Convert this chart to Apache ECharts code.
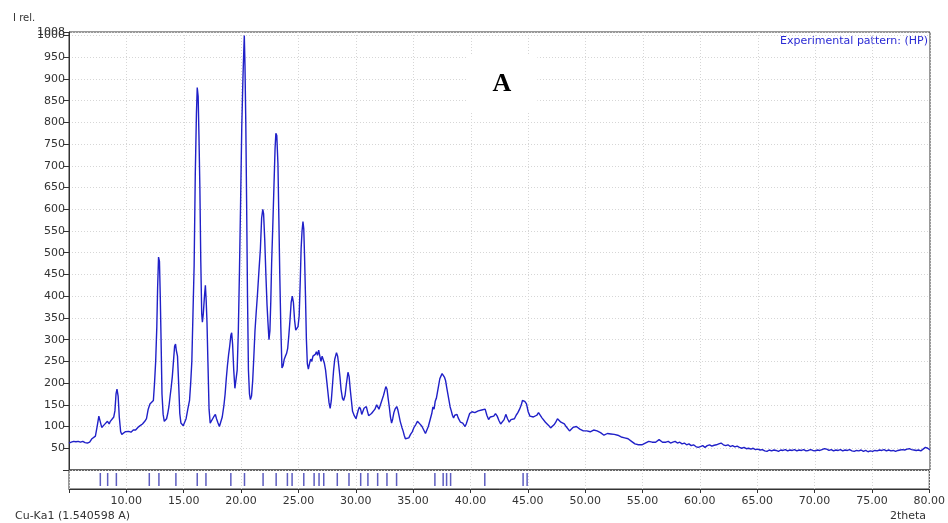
<!DOCTYPE html>
<html><head><meta charset="utf-8">
<script src="https://cdn.jsdelivr.net/npm/echarts@6/dist/echarts.min.js"></script>
<style>html,body{margin:0;padding:0;background:#fff}#c{width:948px;height:523px}</style>
</head><body><div id="c"></div>
<script>
// Experimental pattern [2theta, I rel.]
const scanLow = [[5.0,62],[5.1,58],[5.2,64],[5.4,66],[5.6,65],[5.8,66],[6.0,64],[6.2,66],[6.4,63],[6.6,62],[6.8,64],[7.0,72],[7.15,74],[7.3,78],[7.45,100],[7.6,124],[7.72,126],[7.85,98],[7.95,94],[8.1,105],[8.2,104],[8.35,112],[8.5,106],[8.6,112],[8.75,116],[8.9,122],[9.0,136],[9.1,176],[9.18,186],[9.28,170],[9.38,122],[9.5,88],[9.6,82],[9.75,84],[9.9,88],[10.05,86],[10.2,89],[10.4,87],[10.6,92],[10.8,92],[11.0,98],[11.2,102],[11.4,106],[11.6,112],[11.75,118],[11.9,140],[12.05,152],[12.2,156],[12.35,160],[12.45,200],[12.55,250],[12.65,330],[12.72,420],[12.8,490],[12.88,480],[12.95,400],[13.02,300],[13.1,175],[13.2,128],[13.3,112],[13.4,110],[13.5,118],[13.6,130],[13.7,145],[13.8,168],[13.9,190],[14.0,215],[14.1,250],[14.2,285],[14.28,290],[14.35,275],[14.45,262],[14.55,200],[14.65,130],[14.75,108],[14.85,104],[14.95,102]];
const scanMain = [[15.05,106],[15.2,118],[15.35,140],[15.5,160],[15.6,200],[15.7,250],[15.8,360],[15.9,470],[16.0,680],[16.1,820],[16.17,880],[16.25,860],[16.32,770],[16.4,650],[16.48,480],[16.56,360],[16.62,340],[16.7,360],[16.8,400],[16.88,425],[16.95,390],[17.02,340],[17.1,250],[17.2,140],[17.3,108],[17.45,112],[17.6,122],[17.75,128],[17.85,118],[17.98,108],[18.1,100],[18.2,102],[18.35,122],[18.5,150],[18.6,175],[18.7,210],[18.8,240],[18.9,265],[19.0,285],[19.1,310],[19.17,316],[19.25,290],[19.35,230],[19.45,188],[19.55,185],[19.65,230],[19.75,320],[19.85,460],[19.95,620],[20.05,790],[20.15,900],[20.22,960],[20.27,1000],[20.33,930],[20.4,800],[20.47,620],[20.55,400],[20.63,230],[20.72,175],[20.8,162],[20.9,170],[21.0,205],[21.1,260],[21.2,320],[21.3,360],[21.42,405],[21.55,460],[21.67,508],[21.78,580],[21.88,600],[21.95,590],[22.05,530],[22.15,450],[22.25,380],[22.33,340],[22.42,300],[22.5,320],[22.58,390],[22.65,475],[22.75,560],[22.85,650],[22.95,740],[23.02,775],[23.1,770],[23.2,705],[23.28,580],[23.36,450],[23.45,330],[23.55,235],[23.65,240],[23.75,255],[23.85,262],[23.95,268],[24.05,280],[24.15,310],[24.25,345],[24.35,385],[24.45,400],[24.55,385],[24.65,345],[24.75,322],[24.85,318],[24.95,330],[25.05,355],[25.15,440],[25.22,510],[25.3,550],[25.38,572],[25.45,555],[25.52,490],[25.6,400],[25.68,300],[25.76,245],[25.85,232],[25.95,245]];
const scanMid = [[26.05,255],[26.15,250],[26.25,262],[26.35,258],[26.45,266],[26.55,272],[26.65,264],[26.75,276],[26.85,262],[26.95,250],[27.05,262],[27.15,258],[27.25,245],[27.35,230],[27.45,205],[27.55,180],[27.65,155],[27.75,142],[27.85,160],[27.95,195],[28.05,230],[28.15,255],[28.3,270],[28.4,262],[28.5,240],[28.6,215],[28.7,185],[28.82,165],[28.92,160],[29.05,172],[29.15,195],[29.3,225],[29.4,215],[29.5,185],[29.6,160],[29.7,135],[29.85,125],[30.0,118],[30.1,122],[30.2,138],[30.3,145],[30.4,140],[30.5,128],[30.6,132],[30.7,142],[30.8,140],[30.9,146],[31.0,135],[31.1,125],[31.2,122],[31.35,130],[31.5,128],[31.65,140],[31.8,150],[31.9,146],[32.0,140],[32.1,148],[32.25,160],[32.4,172],[32.5,182],[32.6,192],[32.7,186],[32.8,165],[32.9,145],[33.0,122],[33.1,108],[33.2,118],[33.3,132],[33.4,140],[33.55,146],[33.65,138],[33.75,125],[33.85,112],[34.0,98],[34.1,90],[34.2,80],[34.3,72],[34.45,76],[34.6,74],[34.75,82],[34.9,88],[35.05,98],[35.2,104],[35.35,112],[35.45,110],[35.6,105],[35.75,100],[35.9,92],[36.05,84],[36.15,88],[36.3,100],[36.45,115],[36.6,130],[36.7,145],[36.8,140],[36.9,158],[37.0,165],[37.1,180],[37.2,195],[37.3,210],[37.4,216],[37.5,222],[37.6,218],[37.7,214],[37.8,206],[37.9,190],[38.0,175],[38.1,160],[38.2,145],[38.3,136],[38.4,126],[38.5,120],[38.6,126],[38.7,130],[38.8,128],[38.9,120],[39.0,116],[39.1,110],[39.2,113],[39.3,108],[39.4,104],[39.5,100],[39.6,106],[39.7,114],[39.8,122],[39.9,130]];
const scanTail = [[40.0,128],[40.1,134],[40.2,130],[40.35,132],[40.5,128],[40.65,136],[40.8,134],[40.95,138],[41.1,136],[41.25,140],[41.4,126],[41.55,116],[41.7,122],[41.85,118],[42.0,124],[42.15,130],[42.3,124],[42.45,114],[42.6,106],[42.75,104],[42.9,116],[43.05,128],[43.2,118],[43.35,110],[43.5,116],[43.65,112],[43.8,118],[43.95,126],[44.1,132],[44.25,140],[44.4,150],[44.5,160],[44.6,164],[44.7,158],[44.85,152],[45.0,134],[45.15,124],[45.3,120],[45.45,122],[45.6,118],[45.75,126],[45.9,132],[46.05,128],[46.2,120],[46.35,116],[46.5,110],[46.65,106],[46.8,102],[46.95,97],[47.1,96],[47.25,104],[47.4,110],[47.55,118],[47.7,114],[47.85,110],[48.0,112],[48.15,106],[48.3,100],[48.45,96],[48.6,90],[48.75,94],[48.9,98],[49.05,102],[49.2,100],[49.35,98],[49.5,94],[49.65,92],[49.8,90],[49.95,94],[50.1,90],[50.25,92],[50.4,88],[50.55,90],[50.7,92],[50.85,88],[51.0,90],[51.15,92],[51.3,86],[51.45,84],[51.6,80],[51.75,82],[51.9,84],[52.05,80],[52.2,83],[52.35,86],[52.5,82],[52.65,84],[52.8,80],[52.95,78],[53.1,76],[53.25,78],[53.4,74],[53.55,76],[53.7,72],[53.85,72],[54.0,66],[54.15,62],[54.3,60],[54.45,58],[54.6,58],[54.75,57],[54.9,58],[55.05,60],[55.2,62],[55.35,64],[55.5,66],[55.65,68],[55.8,64],[55.95,66],[56.1,64],[56.25,68],[56.4,70],[56.55,66],[56.7,64],[56.85,68],[57.0,64],[57.2,66],[57.4,62],[57.6,64],[57.8,66],[58.0,62],[58.2,64],[58.4,60],[58.6,62],[58.8,58],[59.0,60],[59.2,56],[59.4,58],[59.6,54],[59.8,52],[60.0,54],[60.2,56],[60.4,52],[60.6,56],[60.8,58],[61.0,55],[61.2,57],[61.4,58],[61.6,60],[61.8,62],[62.0,58],[62.2,56],[62.4,58],[62.6,54],[62.8,56],[63.0,53],[63.2,55],[63.4,52],[63.6,50],[63.8,52],[64.0,49],[64.2,50],[64.4,48],[64.6,50],[64.8,47],[65.0,48],[65.2,46],[65.4,47],[65.6,44],[65.8,43],[66.0,46],[66.2,44],[66.4,46],[66.6,45],[66.8,43],[67.0,46],[67.2,45],[67.4,47],[67.6,44],[67.8,46],[68.0,45],[68.2,47],[68.4,44],[68.6,46],[68.8,45],[69.0,47],[69.2,44],[69.4,45],[69.6,47],[69.8,45],[70.0,44],[70.2,46],[70.4,45],[70.6,47],[70.8,49],[71.0,48],[71.2,45],[71.4,47],[71.6,44],[71.8,46],[72.0,45],[72.2,47],[72.4,44],[72.6,46],[72.8,45],[73.0,47],[73.2,44],[73.4,43],[73.6,45],[73.8,44],[74.0,46],[74.2,43],[74.4,45],[74.6,42],[74.8,44],[75.0,43],[75.2,45],[75.4,44],[75.6,46],[75.8,45],[76.0,47],[76.2,44],[76.4,46],[76.6,44],[76.8,45],[77.0,43],[77.2,45],[77.4,46],[77.6,47],[77.8,46],[78.0,48],[78.2,49],[78.4,47],[78.6,46],[78.8,45],[79.0,46],[79.2,44],[79.4,48],[79.6,52],[79.8,50],[80.0,46]];
// Reflection positions (2theta) shown as ticks in the lower panel
const reflections = [7.73,8.37,9.13,12.0,12.84,14.32,16.18,16.94,19.11,20.3,21.92,23.06,24.04,24.45,25.47,26.37,26.8,27.21,28.39,29.41,30.43,31.06,31.91,32.72,33.56,36.9,37.62,37.92,38.27,41.25,44.59,44.94];
// Axis settings
const xMin = 5, xMax = 80, xStep = 5;
const yMin = 0, yMax = 1008, yStep = 50;
const legendText = 'Experimental pattern: (HP)';
const panelLabel = 'A';
const yTitle = 'I rel.';
const xTitle = '2theta';
const radiation = 'Cu-Ka1 (1.540598 A)';

const pattern = scanLow.concat(scanMain, scanMid, scanTail);
const font = 'DejaVu Sans';
const textCol = '#333';
const gridDot = {show:true, lineStyle:{color:'#d6d6d6', type:[1,2], width:1}};

const chart = echarts.init(document.getElementById('c'), null, {renderer:'canvas'});
chart.setOption({
  animation:false,
  backgroundColor:'#fff',
  grid:[
    {left:69, right:18, top:32, height:438, show:true, borderColor:'#333', borderWidth:1, backgroundColor:'transparent'},
    {left:69, right:18, top:470, height:19, show:true, borderColor:'#333', borderWidth:1, backgroundColor:'transparent'}
  ],
  xAxis:[
    {type:'value', gridIndex:0, min:xMin, max:xMax, interval:xStep,
     axisLine:{show:false}, axisTick:{show:false}, axisLabel:{show:false}, splitLine:gridDot},
    {type:'value', gridIndex:1, min:xMin, max:xMax, interval:xStep,
     axisLine:{show:true, lineStyle:{color:'#333'}}, axisTick:{show:true, length:4, lineStyle:{color:'#333'}},
     axisLabel:{show:true, margin:7, color:textCol, fontFamily:font, fontSize:11,
       formatter:v => v === xMin ? '' : v.toFixed(2)},
     splitLine:gridDot}
  ],
  yAxis:[
    {type:'value', gridIndex:0, min:yMin, max:yMax, interval:yStep,
     axisLine:{show:true, lineStyle:{color:'#333'}}, axisTick:{show:true, inside:false, length:6, lineStyle:{color:'#333'}},
     axisLabel:{show:true, margin:4, color:textCol, fontFamily:font, fontSize:11,
       formatter:v => v === 0 ? '' : String(Math.round(v))},
     splitLine:gridDot},
    {type:'value', gridIndex:1, min:0, max:1, show:false},
    {type:'value', gridIndex:0, position:'left', min:yMin, max:yMax, interval:yMax,
     axisLine:{show:false}, axisTick:{show:true, length:6, lineStyle:{color:'#333'}}, splitLine:{show:false},
     axisLabel:{show:true, margin:4, color:textCol, fontFamily:font, fontSize:11, showMaxLabel:true, showMinLabel:false,
       formatter:v => v === yMax ? String(yMax) : ''}}
  ],
  graphic:[
    {type:'text', left:13, top:13, style:{text:yTitle, fill:textCol, font:'10px "DejaVu Sans"'}},
    {type:'text', right:20, top:36, style:{text:legendText, fill:'#2a2ad4', font:'11px "DejaVu Sans"'}},
    {type:'text', left:15, top:511, style:{text:radiation, fill:textCol, font:'11px "DejaVu Sans"'}},
    {type:'text', right:22, top:511, style:{text:xTitle, fill:textCol, font:'11px "DejaVu Sans"'}},
    {type:'text', x:502, y:84, z:10, style:{text:panelLabel, fill:'#000', font:'bold 26px "Liberation Serif"',
      align:'center', verticalAlign:'middle', backgroundColor:'#fff', padding:[16,26]}}
  ],
  series:[
    {type:'line', xAxisIndex:0, yAxisIndex:0, data:pattern, showSymbol:false, symbol:'none',
     lineStyle:{color:'#2020c8', width:1.4}, z:5},
    {type:'scatter', xAxisIndex:1, yAxisIndex:1, data:reflections.map(t => [t, 0.5]),
     symbol:'rect', symbolSize:[1.5,13], itemStyle:{color:'#3535b0'}}
  ]
});
</script></body></html>
